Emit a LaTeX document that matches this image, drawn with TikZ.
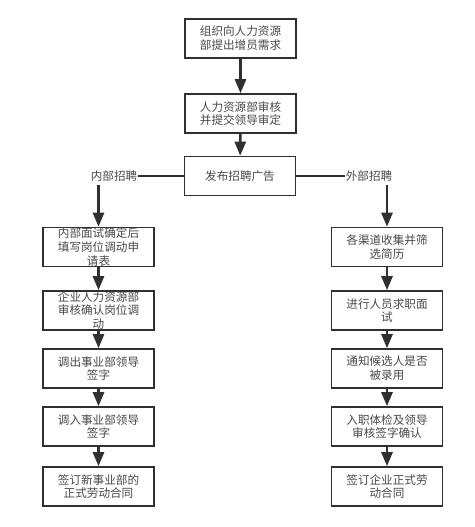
\documentclass[tikz,border=0pt]{standalone}
\usepackage{fontspec}
\setmainfont{Noto Sans CJK SC}
\usetikzlibrary{arrows.meta,positioning}
\definecolor{ink}{HTML}{303030}
\definecolor{txt}{HTML}{484848}
\newcommand{\boxtxt}[1]{\parbox[c][30pt][c]{106pt}{\centering #1}}

\begin{document}
\begin{tikzpicture}[x=1pt,y=1pt,font=\fontsize{11.6}{13.8}\selectfont,
  stepbox/.style={draw=ink,line width=1.6pt,text=txt,inner sep=0pt,
    minimum width=111pt,minimum height=39pt},
  tag/.style={text=txt,inner sep=1pt},
  arr/.style={draw=ink,line width=2.6pt,-{Triangle[length=14pt,width=11pt]}},
  link/.style={draw=ink,line width=1.2pt}]
 \useasboundingbox (0,0) rectangle (474,-527);
 % main chain
 \node[stepbox] (need) at (240.5,-38.5) {\boxtxt{组织向人力资源\\部提出增员需求}};
 \node[stepbox] (check) at (240.5,-113.5) {\boxtxt{人力资源部审核\\并提交领导审定}};
 \node[stepbox] (ad) at (240,-176) {\boxtxt{发布招聘广告}};
 \draw[arr] (need) -- (check);
 \draw[arr] (check) -- (ad);
 % branch labels
 \node[tag] (inner) at (114,-176) {内部招聘};
 \node[tag] (outer) at (369,-176) {外部招聘};
 \draw[link] (ad) -- (inner);
 \draw[link] (ad) -- (outer);
 \coordinate (innerdown) at (98.5,-185);
 \coordinate (outerdown) at (387,-185);
 % internal column
 \node[stepbox] (l1) at (98.5,-247) {\boxtxt{内部面试确定后\\填写岗位调动申\\请表}};
 \node[stepbox] (l2) at (98.5,-310.5) {\boxtxt{企业人力资源部\\审核确认岗位调\\动}};
 \node[stepbox] (l3) at (98.5,-368.5) {\boxtxt{调出事业部领导\\签字}};
 \node[stepbox] (l4) at (98.5,-426.5) {\boxtxt{调入事业部领导\\签字}};
 \node[stepbox] (l5) at (98.5,-486.5) {\boxtxt{签订新事业部的\\正式劳动合同}};
 % external column
 \node[stepbox] (r1) at (387,-247) {\boxtxt{各渠道收集并筛\\选简历}};
 \node[stepbox] (r2) at (387,-310.5) {\boxtxt{进行人员求职面\\试}};
 \node[stepbox] (r3) at (387,-368.5) {\boxtxt{通知候选人是否\\被录用}};
 \node[stepbox] (r4) at (387,-426.5) {\boxtxt{入职体检及领导\\审核签字确认}};
 \node[stepbox] (r5) at (387,-486.5) {\boxtxt{签订企业正式劳\\动合同}};
 \draw[arr] (innerdown) -- (l1);
 \draw[arr] (outerdown) -- (r1);
 \foreach \a/\b in {l1/l2,l2/l3,l3/l4,l4/l5,r1/r2,r2/r3,r3/r4,r4/r5}
   \draw[arr] (\a) -- (\b);
\end{tikzpicture}
\end{document}
